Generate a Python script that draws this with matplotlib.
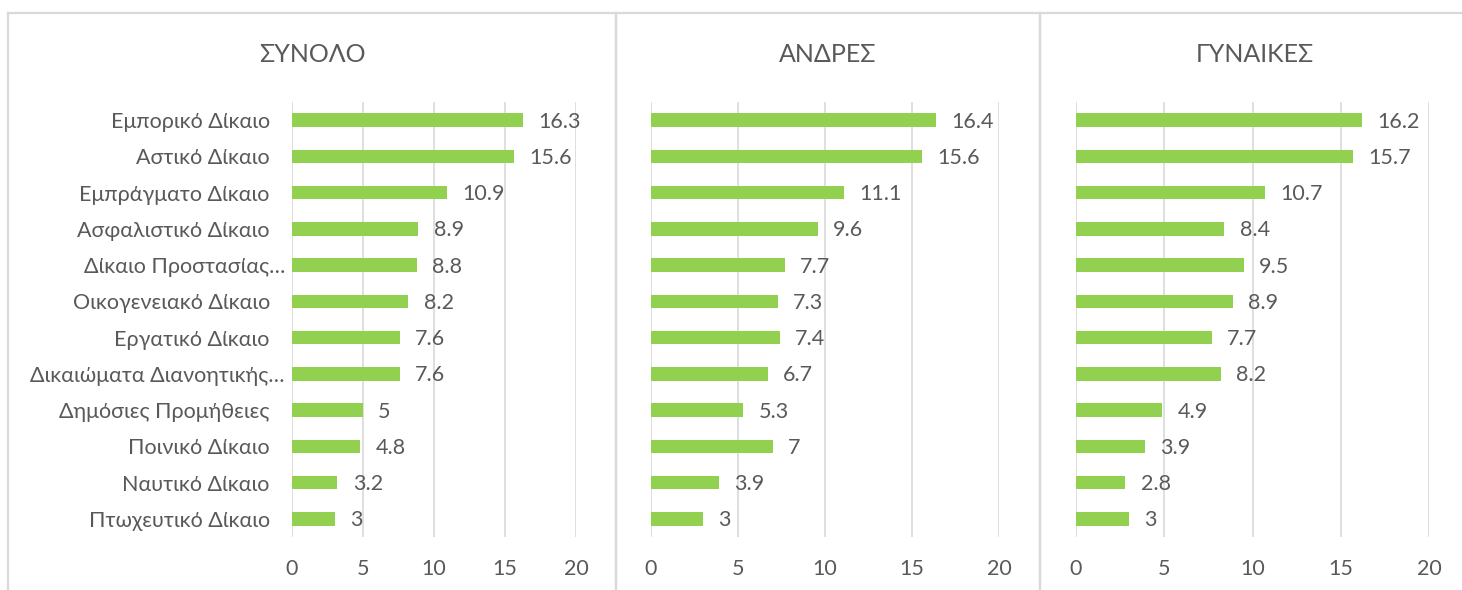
import matplotlib
matplotlib.use("Agg")
import matplotlib.pyplot as plt
from matplotlib.lines import Line2D
from matplotlib.transforms import ScaledTranslation

plt.rcParams['font.family'] = ['Lato', 'Open Sans', 'DejaVu Sans']

categories = ['Εμπορικό Δίκαιο', 'Αστικό Δίκαιο', 'Εμπράγματο Δίκαιο', 'Ασφαλιστικό Δίκαιο',
              'Δίκαιο Προστασίας…', 'Οικογενειακό Δίκαιο', 'Εργατικό Δίκαιο',
              'Δικαιώματα Διανοητικής…', 'Δημόσιες Προμήθειες', 'Ποινικό Δίκαιο',
              'Ναυτικό Δίκαιο', 'Πτωχευτικό Δίκαιο']
total = [16.3, 15.6, 10.9, 8.9, 8.8, 8.2, 7.6, 7.6, 5, 4.8, 3.2, 3]
men = [16.4, 15.6, 11.1, 9.6, 7.7, 7.3, 7.4, 6.7, 5.3, 7, 3.9, 3]
women = [16.2, 15.7, 10.7, 8.4, 9.5, 8.9, 7.7, 8.2, 4.9, 3.9, 2.8, 3]
titles = ['ΣΥΝΟΛΟ', 'ΑΝΔΡΕΣ', 'ΓΥΝΑΙΚΕΣ']
xticks = [0, 5, 10, 15, 20]

W, H = 1462, 590
fig = plt.figure(figsize=(W / 100, H / 100), dpi=100)

BAR = '#92D050'
GRID = '#D9D9D9'
TXT = '#595959'
FS = 15.5

# axes placement in pixels: (x0, x20)
spans = [(292, 576), (651, 999), (1076, 1429)]
panels = [(8, 616), (616, 1040), (1040, 1470)]
top_px, bot_px = 102, 537
series = [total, men, women]

for i, (vals, title, (x0, x1), (p0, p1)) in enumerate(zip(series, titles, spans, panels)):
    ax = fig.add_axes([x0 / W, 1 - bot_px / H, (x1 - x0) / W, (bot_px - top_px) / H])
    ypos = list(range(len(categories)))
    ax.barh(ypos, vals, height=0.37, color=BAR, zorder=3)
    ax.set_xlim(0, 20)
    ax.set_ylim(len(categories) - 0.5, -0.5)
    ax.set_xticks(xticks)
    ax.set_xticklabels([str(t) for t in xticks])
    ax.set_yticks(ypos)
    if i == 0:
        ax.set_yticklabels(categories)
    else:
        ax.set_yticklabels([])
    ax.tick_params(axis='both', length=0, labelsize=FS, colors=TXT)
    ax.tick_params(axis='x', pad=16)
    ax.tick_params(axis='y', pad=16)
    for s in ax.spines.values():
        s.set_visible(False)
    ax.grid(axis='x', color=GRID, linewidth=1.2, zorder=0)
    ax.set_axisbelow(True)
    if i == 0:
        for lbl in ax.get_yticklabels():
            if lbl.get_text().endswith('…'):
                lbl.set_transform(lbl.get_transform() +
                                  ScaledTranslation(15 / 100, 0, fig.dpi_scale_trans))
    for y, v in zip(ypos, vals):
        ax.annotate(f'{v:g}', xy=(v, y), xytext=(11, -1), textcoords='offset points',
                    va='center', ha='left', fontsize=FS, color=TXT)
    fig.text(((p0 + p1) / 2) / W, 1 - 55 / H, title, ha='center', va='center',
             fontsize=18, color=TXT)

# panel borders
lw = 1.6
for (p0, p1) in panels:
    for xp in (p0, p1):
        fig.add_artist(Line2D([xp / W, xp / W], [0, 1 - 13 / H], color=GRID, linewidth=lw,
                              transform=fig.transFigure))
    fig.add_artist(Line2D([p0 / W, p1 / W], [1 - 13 / H, 1 - 13 / H], color=GRID, linewidth=lw,
                          transform=fig.transFigure))

fig.savefig('out.png', dpi=100, facecolor='white')
